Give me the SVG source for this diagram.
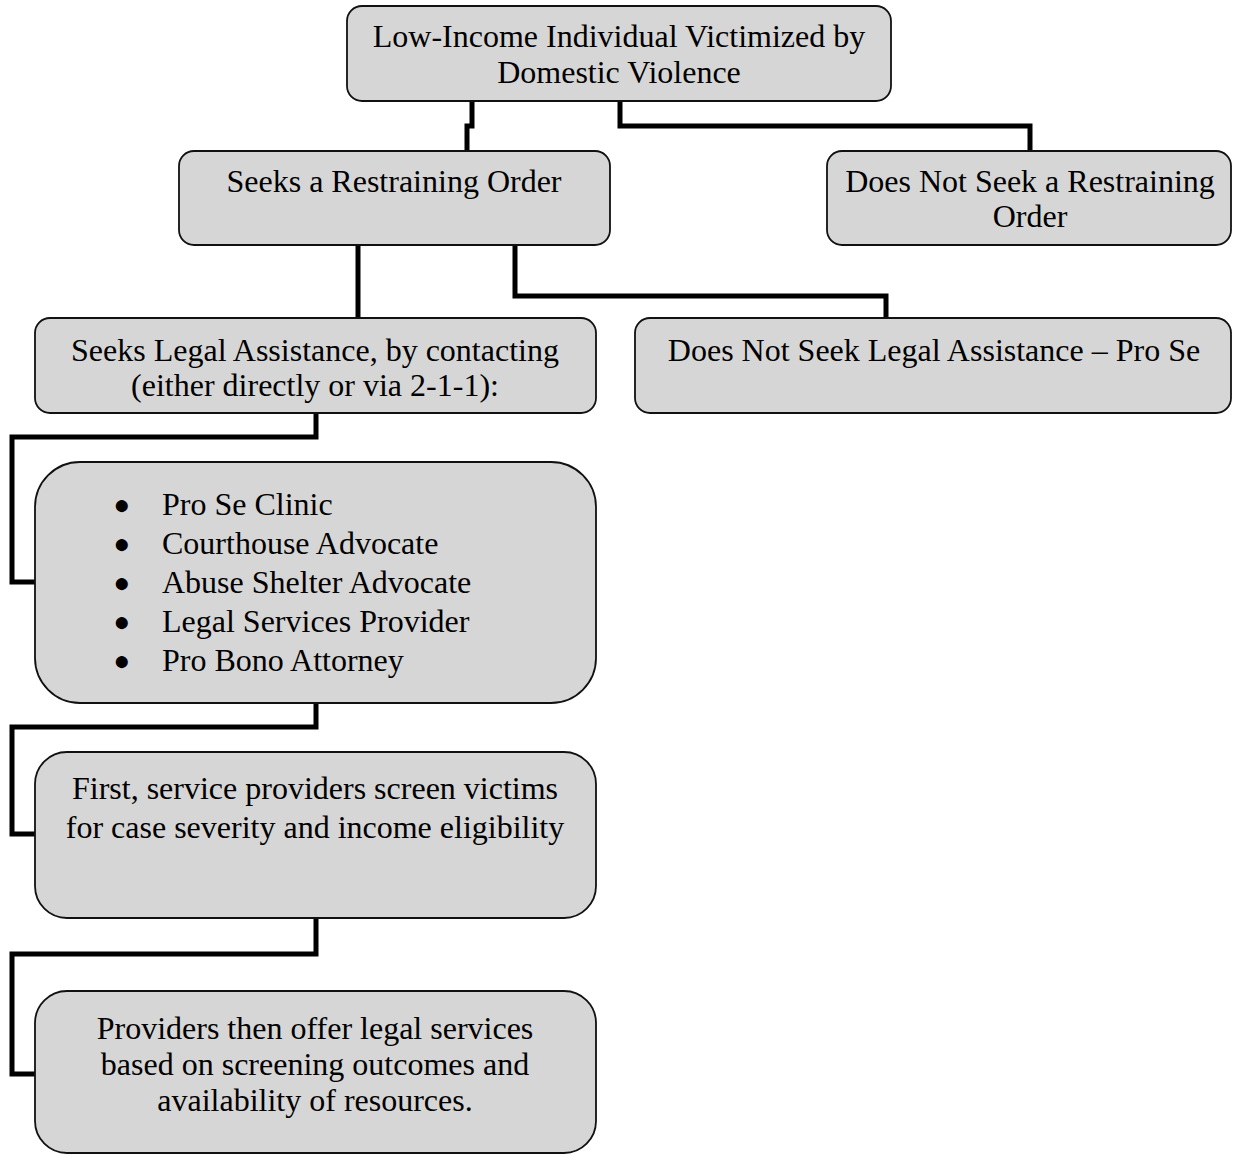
<svg xmlns="http://www.w3.org/2000/svg" width="1233" height="1156" viewBox="0 0 1233 1156">
<style>
.box{fill:#d6d6d6;stroke:#111;stroke-width:1.8}
.t{font-family:"Liberation Serif","Times New Roman",serif;font-size:32px;fill:#000}
.c{text-anchor:middle}
.b{font-family:"Liberation Serif","DejaVu Sans",serif;font-size:28px;fill:#000;text-anchor:middle}
.conn{fill:none;stroke:#000;stroke-width:5;stroke-linejoin:miter;stroke-linecap:butt}
</style>
<rect width="1233" height="1156" fill="#fff"/>
<g id="connectors">
<path class="conn" d="M472,101 V126 H467 V151"/>
<path class="conn" d="M620,101 V126 H1030 V151"/>
<path class="conn" d="M358,245 V318"/>
<path class="conn" d="M515,245 V296 H886 V318"/>
<path class="conn" d="M316,413 V437 H12 V582 H35"/>
<path class="conn" d="M316,703 V727 H12 V834 H35"/>
<path class="conn" d="M316,918 V954 H12 V1074 H35"/>
</g>
<g id="n1">
<rect class="box" x="347" y="6" width="544" height="95" rx="15"/>
<text class="t c" x="619" y="47">Low-Income Individual Victimized by</text>
<text class="t c" x="619" y="83">Domestic Violence</text>
</g>
<g id="n2">
<rect class="box" x="179" y="151" width="431" height="94" rx="15"/>
<text class="t c" x="394" y="192">Seeks a Restraining Order</text>
</g>
<g id="n3">
<rect class="box" x="827" y="151" width="404" height="94" rx="15"/>
<text class="t c" x="1030" y="192">Does Not Seek a Restraining</text>
<text class="t c" x="1030" y="227">Order</text>
</g>
<g id="n4">
<rect class="box" x="35" y="318" width="561" height="95" rx="15"/>
<text class="t c" x="315" y="361">Seeks Legal Assistance, by contacting</text>
<text class="t c" x="315" y="396">(either directly or via 2-1-1):</text>
</g>
<g id="n5">
<rect class="box" x="635" y="318" width="596" height="95" rx="15"/>
<text class="t c" x="934" y="361">Does Not Seek Legal Assistance – Pro Se</text>
</g>
<g id="n6">
<rect class="box" x="35" y="462" width="561" height="241" rx="45"/>
<g class="b">
<text x="122" y="514">●</text>
<text x="122" y="553">●</text>
<text x="122" y="592">●</text>
<text x="122" y="631">●</text>
<text x="122" y="670">●</text>
</g>
<g class="t">
<text x="162" y="515">Pro Se Clinic</text>
<text x="162" y="554">Courthouse Advocate</text>
<text x="162" y="593">Abuse Shelter Advocate</text>
<text x="162" y="632">Legal Services Provider</text>
<text x="162" y="671">Pro Bono Attorney</text>
</g>
</g>
<g id="n7">
<rect class="box" x="35" y="752" width="561" height="166" rx="32"/>
<text class="t c" x="315" y="799">First, service providers screen victims</text>
<text class="t c" x="315" y="838">for case severity and income eligibility</text>
</g>
<g id="n8">
<rect class="box" x="35" y="991" width="561" height="162" rx="32"/>
<text class="t c" x="315" y="1039">Providers then offer legal services</text>
<text class="t c" x="315" y="1075">based on screening outcomes and</text>
<text class="t c" x="315" y="1111">availability of resources.</text>
</g>
</svg>
